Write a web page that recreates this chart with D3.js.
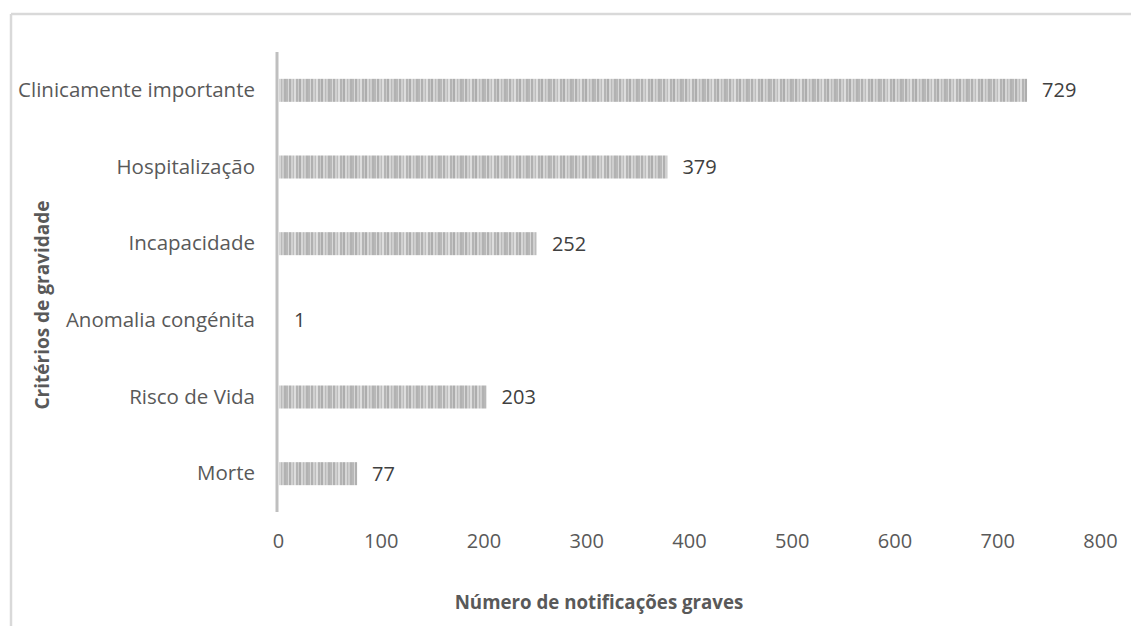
<!DOCTYPE html>
<html>
<head>
<meta charset="utf-8">
<script src="https://cdn.jsdelivr.net/npm/d3@7"></script>
<style>
  html, body { margin: 0; padding: 0; background: #fff; }
  svg { display: block; }
  text { font-family: "Open Sans", "Noto Sans", sans-serif; }
</style>
</head>
<body>
<svg id="chart" width="1131" height="626"></svg>
<script>
// Serious-case notifications by severity criterion
const categories = [
  "Clinicamente importante",
  "Hospitalização",
  "Incapacidade",
  "Anomalia congénita",
  "Risco de Vida",
  "Morte"
];
const values = [729, 379, 252, 1, 203, 77];
const xTicks = [0, 100, 200, 300, 400, 500, 600, 700, 800];
const xTitle = "Número de notificações graves";
const yTitle = "Critérios de gravidade";

const W = 1131, H = 626;
const plot = { left: 278, right: 1100, top: 52, bottom: 512 };

const svg = d3.select("#chart");

// vertical stripe fill for the bars
const defs = svg.append("defs");
const pat = defs.append("pattern")
  .attr("id", "stripes")
  .attr("patternUnits", "userSpaceOnUse")
  .attr("width", 22).attr("height", 10);
const stripes = [
  ["#b8b8b8", 2], ["#d8d8d8", 1], ["#b0b0b0", 2], ["#d0d0d0", 2], ["#bdbdbd", 1],
  ["#dddddd", 2], ["#b4b4b4", 2], ["#cbcbcb", 1], ["#adadad", 2], ["#d6d6d6", 2],
  ["#bababa", 1], ["#cecece", 2], ["#b2b2b2", 2]
];
let sx = 0;
stripes.forEach(([c, w]) => {
  pat.append("rect").attr("x", sx).attr("y", 0).attr("width", w).attr("height", 10).attr("fill", c);
  sx += w;
});

// outer frame (top and left edges visible)
svg.append("line").attr("x1", 11).attr("x2", W).attr("y1", 14).attr("y2", 14)
  .attr("stroke", "#d9d9d9").attr("stroke-width", 2.5);
svg.append("line").attr("x1", 11).attr("x2", 11).attr("y1", 14).attr("y2", H)
  .attr("stroke", "#d9d9d9").attr("stroke-width", 2.5);

const x = d3.scaleLinear().domain([0, 800]).range([plot.left, plot.right]);
const y = d3.scaleBand().domain(categories).range([plot.top, plot.bottom])
  .paddingInner(0.7).paddingOuter(0.35);

// bars
svg.append("g").selectAll("rect")
  .data(categories)
  .join("rect")
  .attr("x", x(0) + 1)
  .attr("y", d => y(d))
  .attr("width", (d, i) => Math.max(0, x(values[i]) - x(0) - 1))
  .attr("height", y.bandwidth())
  .attr("fill", "url(#stripes)");

// value labels
svg.append("g").selectAll("text")
  .data(categories)
  .join("text")
  .attr("x", (d, i) => x(values[i]) + 15)
  .attr("y", d => y(d) + y.bandwidth() / 2)
  .attr("dy", "0.35em")
  .attr("font-size", 20)
  .attr("fill", "#404040")
  .text((d, i) => values[i]);

// category axis
const yAxis = svg.append("g")
  .attr("transform", `translate(${plot.left - 1},0)`)
  .call(d3.axisLeft(y).tickSize(0).tickPadding(22));
yAxis.select(".domain").remove();
yAxis.append("line")
  .attr("x1", 0).attr("x2", 0)
  .attr("y1", plot.top).attr("y2", plot.bottom)
  .attr("stroke", "#bfbfbf").attr("stroke-width", 3);
yAxis.selectAll(".tick text")
  .attr("font-size", 20.5)
  .attr("fill", "#595959")
  .style("font-family", "'Open Sans', sans-serif");

// value axis (labels only)
const xAxis = svg.append("g")
  .attr("transform", `translate(0,${plot.bottom})`)
  .call(d3.axisBottom(x).tickValues(xTicks).tickSize(0).tickPadding(22));
xAxis.select(".domain").remove();
xAxis.selectAll(".tick text")
  .attr("font-size", 20)
  .attr("fill", "#595959")
  .style("font-family", "'Open Sans', sans-serif");

// axis titles
svg.append("text")
  .attr("x", 599).attr("y", 602)
  .attr("dy", "0.35em")
  .attr("text-anchor", "middle")
  .attr("font-size", 18.7)
  .attr("font-weight", "bold")
  .attr("fill", "#595959")
  .text(xTitle);

svg.append("text")
  .attr("transform", `translate(42,305) rotate(-90)`)
  .attr("dy", "0.35em")
  .attr("text-anchor", "middle")
  .attr("font-size", 19)
  .attr("font-weight", "bold")
  .attr("fill", "#595959")
  .text(yTitle);
</script>
</body>
</html>
